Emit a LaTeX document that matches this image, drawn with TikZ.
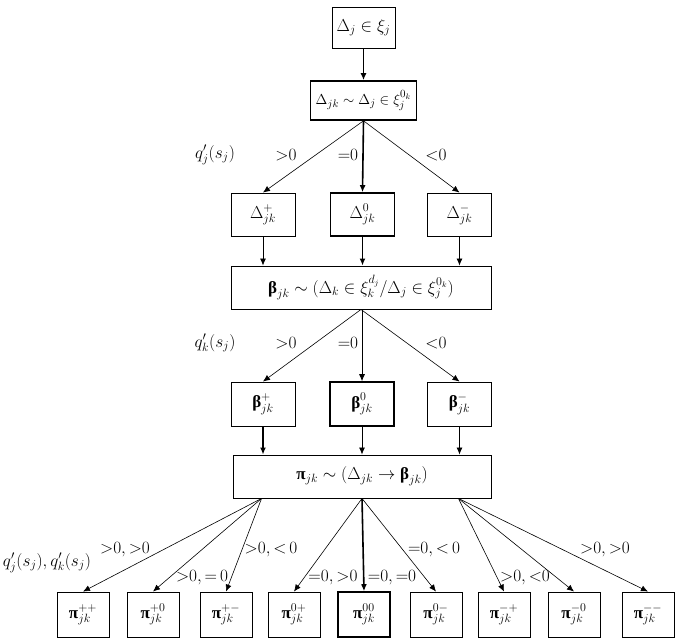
\documentclass[tikz,border=0pt]{standalone}
\usepackage{fontspec}
\usetikzlibrary{arrows.meta}
\newfontfamily\grkfont{Liberation Serif}
\newcommand{\betab}{\mbox{\grkfont\bfseries β}}
\newcommand{\pib}{\mbox{\grkfont\bfseries π}}
\tikzset{
  box/.style={draw, line width=0.9pt, inner sep=0pt, minimum height=43pt, font=\fontsize{17}{20}\selectfont},
  hbox/.style={box, line width=1.6pt},
  arr/.style={-{Latex[length=7pt,width=6pt]}, line width=0.8pt},
  harr/.style={arr, line width=1.6pt},
  darr/.style={-{Latex[length=7pt,width=6pt]}, line width=0.6pt},
  lbl/.style={font=\fontsize{17}{20}\selectfont, inner sep=0pt},
}
\begin{document}
\begin{tikzpicture}[x=1pt,y=-1pt]
    \useasboundingbox (0,0) rectangle (677,641);

    % boxes
    \node[box, minimum width=63pt, minimum height=41pt] (top) at (363.5,27.5) {$\Delta_j \in \xi_j$};
    \node[hbox, minimum width=106pt, minimum height=39pt, font=\fontsize{15.5}{18}\selectfont] (b2) at (363.5,100.5) {$\Delta_{jk} \sim \Delta_j \in \xi_j^{0_k}$};

    \node[box, minimum width=64pt] (dp) at (263,214.5) {$\Delta^{+}_{jk}$};
    \node[hbox, minimum width=64pt] (dz) at (362.5,214.5) {$\Delta^{0}_{jk}$};
    \node[box, minimum width=64pt] (dm) at (459.5,214.5) {$\Delta^{-}_{jk}$};

    \node[box, minimum width=260pt] (beta) at (361,287.5) {$\betab_{jk} \sim (\Delta_k \in \xi_k^{d_j} / \Delta_j \in \xi_j^{0_k})$};

    \node[box, minimum width=64pt, minimum height=44pt] (bp) at (263,404) {$\betab^{+}_{jk}$};
    \node[hbox, minimum width=64pt, minimum height=44pt] (bz) at (362,404) {$\betab^{0}_{jk}$};
    \node[box, minimum width=64pt, minimum height=44pt] (bm) at (459.5,404) {$\betab^{-}_{jk}$};

    \node[box, minimum width=258pt] (pi) at (362,476.5) {$\pib_{jk} \sim (\Delta_{jk} \to \betab_{jk})$};

    \node[box, minimum width=52pt, minimum height=45pt] (p1) at (83,614.5) {$\pib^{++}_{jk}$};
    \node[box, minimum width=52pt, minimum height=45pt] (p2) at (153,614.5) {$\pib^{+0}_{jk}$};
    \node[box, minimum width=52pt, minimum height=45pt] (p3) at (226,614.5) {$\pib^{+-}_{jk}$};
    \node[box, minimum width=52pt, minimum height=45pt] (p4) at (294,614.5) {$\pib^{0+}_{jk}$};
    \node[hbox, minimum width=52pt, minimum height=45pt] (p5) at (364,614.5) {$\pib^{00}_{jk}$};
    \node[box, minimum width=52pt, minimum height=45pt] (p6) at (436,614.5) {$\pib^{0-}_{jk}$};
    \node[box, minimum width=52pt, minimum height=45pt] (p7) at (504,614.5) {$\pib^{-+}_{jk}$};
    \node[box, minimum width=52pt, minimum height=45pt] (p8) at (574,614.5) {$\pib^{-0}_{jk}$};
    \node[box, minimum width=52pt, minimum height=45pt] (p9) at (648,614.5) {$\pib^{--}_{jk}$};

    % arrows
    \draw[harr] (top) -- (b2);
    \draw[darr] (b2.south) -- (dp.north);
    \draw[harr] (b2.south) -- (dz.north);
    \draw[darr] (b2.south) -- (dm.north);

    \draw[arr] (dp) -- (dp |- beta.north);
    \draw[harr] (dz) -- (dz |- beta.north);
    \draw[arr] (dm) -- (dm |- beta.north);

    \draw[darr] (beta.south) -- (bp.north);
    \draw[arr] (bz |- beta.south) -- (bz);
    \draw[darr] (beta.south) -- (bm.north);

    \draw[harr] (bp) -- (bp |- pi.north);
    \draw[arr] (bz) -- (bz |- pi.north);
    \draw[arr] (bm) -- (bm |- pi.north);

    \coordinate (pl) at ([xshift=29pt]pi.south west);
    \coordinate (pr) at ([xshift=-33pt]pi.south east);
    \draw[darr] (pl) -- (p1.north);
    \draw[darr] (pl) -- (p2.north);
    \draw[darr] (pl) -- (p3.north);
    \draw[darr] (pi.south) -- (p4.north);
    \draw[harr] (pi.south) -- (p5.north);
    \draw[darr] (pi.south) -- (p6.north);
    \draw[darr] (pr) -- (p7.north);
    \draw[darr] (pr) -- (p8.north);
    \draw[darr] (pr) -- (p9.north);

    % labels
    \node[lbl] (qj) at (215,155) {$q'_j(s_j)$};
    \node[lbl] (g1) at (286,155) {${>}0$};
    \node[lbl] (e1) at (348,155) {${=}0$};
    \node[lbl] (l1) at (436,155) {${<}0$};

    \node[lbl] (qk) at (215,343) {$q'_k(s_j)$};
    \node[lbl] (g2) at (286,343) {${>}0$};
    \node[lbl] (e2) at (348,343) {${=}0$};
    \node[lbl] (l2) at (436,343) {${<}0$};

    \node[lbl] (qjk) at (47,563) {$q'_j(s_j), q'_k(s_j)$};
    \node[lbl] (c1) at (125,550) {${>}0,{>}0$};
    \node[lbl] (c2) at (202,578) {${>}0,{=}\,0$};
    \node[lbl] (c3) at (271,550) {${>}0,{<}\,0$};
    \node[lbl] (c4) at (333,578) {${=}0,{>}0$};
    \node[lbl] (c5) at (392,578) {${=}0,{=}0$};
    \node[lbl] (c6) at (434,550) {${=}0,{<}\,0$};
    \node[lbl] (c7) at (525,578) {${>}0,{<}0$};
    \node[lbl] (c8) at (605,550) {${>}0,{>}0$};
\end{tikzpicture}
\end{document}
